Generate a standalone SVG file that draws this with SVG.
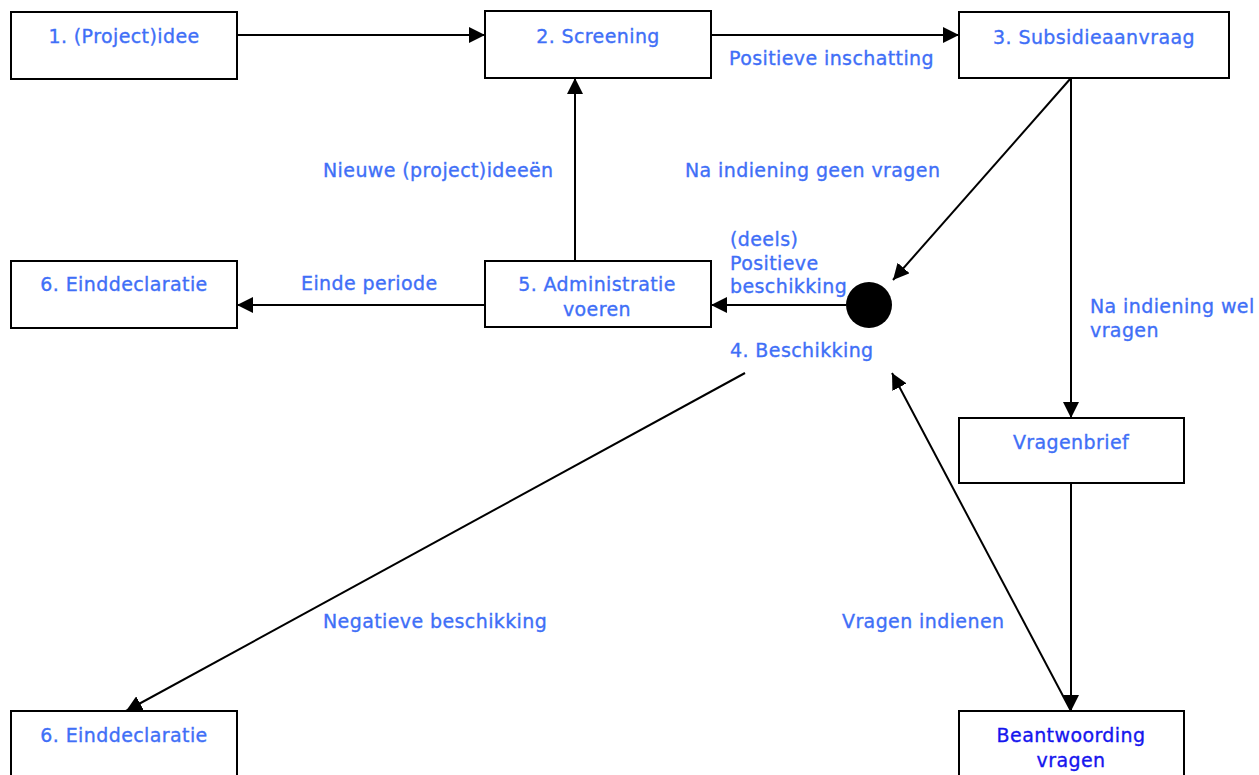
<svg xmlns="http://www.w3.org/2000/svg" width="1259" height="775" viewBox="0 0 1259 775">
<style>
.box{fill:#fff;stroke:#000;stroke-width:2}
.t{font-family:"DejaVu Sans",Verdana,sans-serif;font-size:19px;letter-spacing:0.4px;fill:#3F6FF7;stroke:#3F6FF7;stroke-width:0.35}
.c{text-anchor:middle}
.dk{fill:#1515EE;stroke:#1515EE}
.ln{fill:none;stroke:#000;stroke-width:2}
</style>
<defs>
<marker id="ah" markerUnits="userSpaceOnUse" markerWidth="17" markerHeight="16" refX="16" refY="8" orient="auto">
<path d="M0,0 L16,8 L0,16 Z" fill="#000"/>
</marker>
</defs>
<rect width="1259" height="775" fill="#fff"/>
<g id="connectors">
<line class="ln" x1="237" y1="35" x2="485" y2="35" marker-end="url(#ah)"/>
<line class="ln" x1="711" y1="35" x2="959" y2="35" marker-end="url(#ah)"/>
<line class="ln" x1="1071" y1="78" x2="893" y2="280" marker-end="url(#ah)"/>
<line class="ln" x1="1071" y1="78" x2="1071" y2="418" marker-end="url(#ah)"/>
<line class="ln" x1="1071" y1="483" x2="1071" y2="711" marker-end="url(#ah)"/>
<line class="ln" x1="1071" y1="711" x2="892" y2="373" marker-end="url(#ah)"/>
<line class="ln" x1="846" y1="305" x2="711" y2="305" marker-end="url(#ah)"/>
<line class="ln" x1="575" y1="261" x2="575" y2="78" marker-end="url(#ah)"/>
<line class="ln" x1="485" y1="305" x2="237" y2="305" marker-end="url(#ah)"/>
<line class="ln" x1="745" y1="373" x2="126" y2="711" marker-end="url(#ah)"/>
</g>
<g id="n1"><rect class="box" x="11" y="12" width="226" height="67"/><text class="t c" x="124" y="43">1. (Project)idee</text></g>
<g id="n2"><rect class="box" x="485" y="11" width="226" height="67"/><text class="t c" x="598" y="43">2. Screening</text></g>
<g id="n3"><rect class="box" x="959" y="12" width="270" height="66"/><text class="t c" x="1094" y="44">3. Subsidieaanvraag</text></g>
<g id="n6a"><rect class="box" x="11" y="261" width="226" height="67"/><text class="t c" x="124" y="291">6. Einddeclaratie</text></g>
<g id="n5"><rect class="box" x="485" y="261" width="226" height="66"/><text class="t c" x="597" y="291">5. Administratie</text><text class="t c" x="597" y="316">voeren</text></g>
<g id="n4"><circle cx="869" cy="305" r="23" fill="#000"/><text class="t" x="730" y="357">4. Beschikking</text></g>
<g id="nv"><rect class="box" x="959" y="418" width="225" height="65"/><text class="t c" x="1071" y="449">Vragenbrief</text></g>
<g id="n6b"><rect class="box" x="11" y="711" width="226" height="80"/><text class="t c" x="124" y="742">6. Einddeclaratie</text></g>
<g id="nb"><rect class="box" x="959" y="711" width="225" height="80"/><text class="t c dk" x="1071" y="742">Beantwoording</text><text class="t c dk" x="1071" y="767">vragen</text></g>
<g id="labels">
<text class="t" x="729" y="65">Positieve inschatting</text>
<text class="t" x="323" y="177">Nieuwe (project)ideeën</text>
<text class="t" x="685" y="177">Na indiening geen vragen</text>
<text class="t" x="301" y="290">Einde periode</text>
<text class="t" x="730" y="246">(deels)</text>
<text class="t" x="730" y="270">Positieve</text>
<text class="t" x="730" y="293">beschikking</text>
<text class="t" x="1090" y="313">Na indiening wel</text>
<text class="t" x="1090" y="337">vragen</text>
<text class="t" x="323" y="628">Negatieve beschikking</text>
<text class="t" x="842" y="628">Vragen indienen</text>
</g>
</svg>
